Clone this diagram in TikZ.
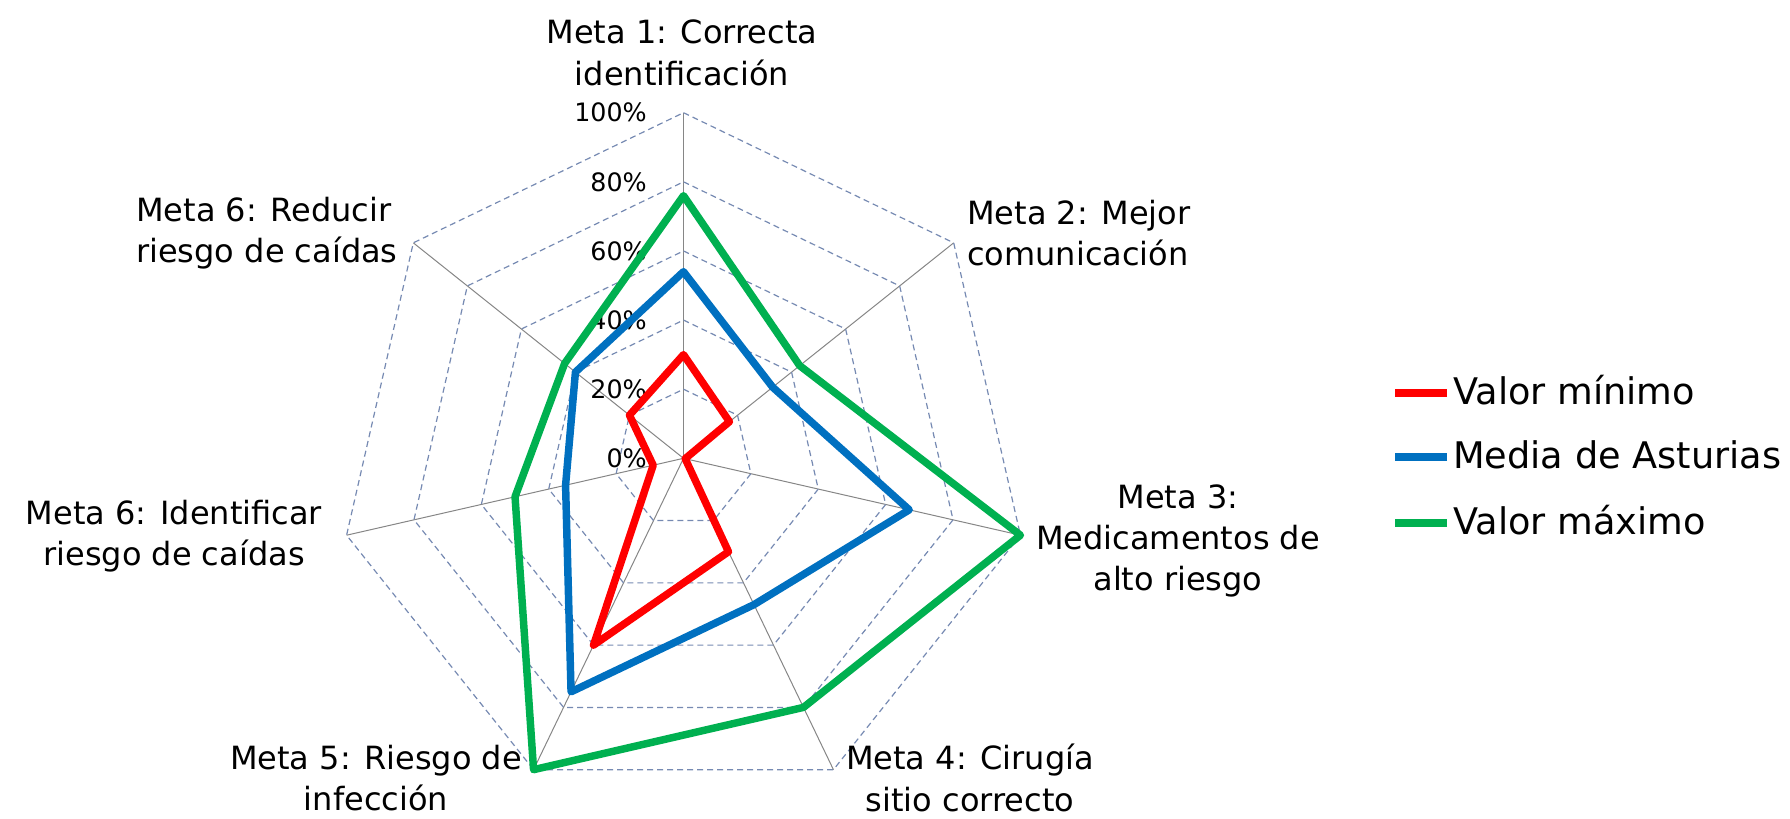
\documentclass[tikz,border=0pt]{standalone}
\usepackage{fontspec}
\setmainfont{DejaVu Sans}
\usepackage{xcolor}
\usetikzlibrary{positioning}

\definecolor{mincol}{RGB}{255,0,0}
\definecolor{medcol}{RGB}{0,112,192}
\definecolor{maxcol}{RGB}{0,176,80}
\definecolor{gridcol}{RGB}{118,138,178}
\definecolor{spokecol}{RGB}{134,134,134}

\begin{document}
\begin{tikzpicture}[x=0.75pt,y=0.75pt,yscale=-1,xscale=1,
    spoke/.style={draw=spokecol, line width=0.75pt},
    ring/.style={draw=gridcol, line width=0.9pt, dash pattern=on 4.5pt off 3pt},
    serie/.style={line width=5.6pt, line join=round},
    goal/.style={align=center, font=\fontsize{24}{31}\selectfont, inner sep=0.75pt},
    pct/.style={anchor=east, font=\fontsize{19}{22}\selectfont, inner sep=0.75pt},
    key/.style={anchor=base west, font=\fontsize{27.5}{31}\selectfont, inner sep=0.75pt}]
    \useasboundingbox (0,0) rectangle (1790,818);
    \def\u{3.456} % px for 1%

    %Shape: Radar grid, centre of the chart
    \begin{scope}[shift={(683.5,458.3)}, yscale=-1]
    \coordinate (o) at (0,0);
    % spokes
    \foreach \k in {0,...,6}
        \draw[spoke] (o) -- ({90-\k*360/7}:345.6);
    % rings every 20%
    \foreach \r in {1,...,5}
        \draw[ring] (90:{\r*69.12}) \foreach \k in {1,...,6} {-- ({90-\k*360/7}:{\r*69.12})} -- cycle;
    \end{scope}

    % Text Node: scale
    \foreach \p [count=\i from 0] in {0,20,40,60,80,100}
        \node[pct] (p\p) at (648,{458.3-\i*69.12}) {\p\%};

    %Shape: Series
    \begin{scope}[shift={(683.5,458.3)}, yscale=-1]
    \draw[serie, draw=mincol] (90:{30*\u}) \foreach \v [count=\k] in {17,0.5,30,60,9,20} {-- ({90-\k*360/7}:{\v*\u})} -- cycle;
    \draw[serie, draw=medcol] (90:{54*\u}) \foreach \v [count=\k] in {33,67,47,75,35,40} {-- ({90-\k*360/7}:{\v*\u})} -- cycle;
    \draw[serie, draw=maxcol] (90:{76*\u}) \foreach \v [count=\k] in {43,100,80,100,50,44} {-- ({90-\k*360/7}:{\v*\u})} -- cycle;
    \end{scope}

    % Text Node: goals
    \node[goal] (m1) at (682,53) {Meta 1: Correcta\\identificación};
    \node[goal, align=left, anchor=west] (m2) at (966,233) {Meta 2: Mejor\\comunicación};
    \node[goal] (m3) at (1178,541) {Meta 3:\\Medicamentos de\\alto riesgo};
    \node[goal] (m4) at (970,778) {Meta 4: Cirugía\\sitio correcto};
    \node[goal] (m5) at (376,778) {Meta 5: Riesgo de\\infección};
    \node[goal] (m6i) at (174,536) {Meta 6: Identificar\\riesgo de caídas};
    \node[goal, align=left, anchor=west] (m6r) at (135,233) {Meta 6: Reducir\\riesgo de caídas};

    % Legend
    \node[key] (kmin) at (1452,404) {Valor mínimo};
    \node[key] (kmed) at (1452,468) {Media de Asturias};
    \node[key] (kmax) at (1452,534) {Valor máximo};
    \draw[serie, draw=mincol] (kmin.base west) ++(-5,-11) -- ++(-52,0);
    \draw[serie, draw=medcol] (kmed.base west) ++(-5,-11) -- ++(-52,0);
    \draw[serie, draw=maxcol] (kmax.base west) ++(-5,-11) -- ++(-52,0);
\end{tikzpicture}
\end{document}
